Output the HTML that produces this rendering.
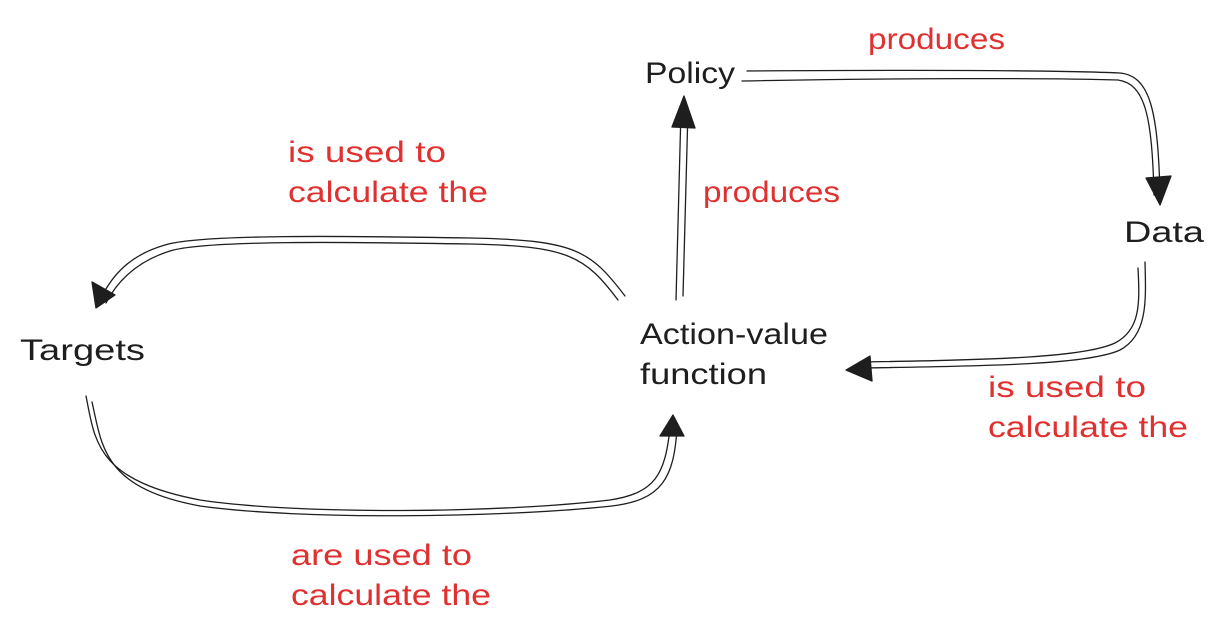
<!DOCTYPE html>
<html><head><style>
html,body{margin:0;padding:0;background:#fff;}
svg{display:block}
text{font-family:"Liberation Sans",sans-serif;}
.b{font-size:30px;fill:#1e1e1e;}
.r{font-size:30px;fill:#e03131;}
.l{fill:none;stroke:#1e1e1e;stroke-width:1.3;stroke-linecap:round}
.h{fill:#1e1e1e;stroke:#1e1e1e;stroke-width:1.3;stroke-linejoin:round}
</style></head><body>
<svg width="1223" height="637" viewBox="0 0 1223 637">
<text class="b" x="645" y="83" textLength="90" lengthAdjust="spacingAndGlyphs">Policy</text>
<text class="b" x="1124" y="242" textLength="80" lengthAdjust="spacingAndGlyphs">Data</text>
<text class="b" x="20" y="360" textLength="125" lengthAdjust="spacingAndGlyphs">Targets</text>
<text class="b" x="640" y="344" textLength="188" lengthAdjust="spacingAndGlyphs">Action-value</text>
<text class="b" x="640" y="384" textLength="127" lengthAdjust="spacingAndGlyphs">function</text>
<text class="r" x="868" y="49" textLength="137" lengthAdjust="spacingAndGlyphs">produces</text>
<text class="r" x="703" y="202" textLength="137" lengthAdjust="spacingAndGlyphs">produces</text>
<text class="r" x="288" y="162" textLength="158" lengthAdjust="spacingAndGlyphs">is used to</text>
<text class="r" x="288" y="202" textLength="200" lengthAdjust="spacingAndGlyphs">calculate the</text>
<text class="r" x="988" y="397" textLength="158" lengthAdjust="spacingAndGlyphs">is used to</text>
<text class="r" x="988" y="437" textLength="200" lengthAdjust="spacingAndGlyphs">calculate the</text>
<text class="r" x="291" y="565" textLength="181" lengthAdjust="spacingAndGlyphs">are used to</text>
<text class="r" x="291" y="605" textLength="200" lengthAdjust="spacingAndGlyphs">calculate the</text>

<path class="l" d="M747 71 C900 70 1050 70 1120 73 C1150 76 1158 110 1160 195"/>
<path class="l" d="M742 81 C900 78 1050 78 1118 80 C1145 84 1152 115 1154 195"/>
<path class="h" d="M1146 178 L1171 176 L1160 205 Z"/>
<path class="l" d="M676 300 C678 240 679 170 681 110"/>
<path class="l" d="M683 296 C685 240 686 170 688 110"/>
<path class="h" d="M672 127 L695 128 L684 96 Z"/>
<path class="l" d="M625 296 C590 250 575 240 470 238 C350 236 200 234 165 245 C130 255 112 275 100 300"/>
<path class="l" d="M618 300 C585 256 568 246 470 244 C350 242 205 240 170 251 C138 261 118 280 106 303"/>
<path class="h" d="M92 282 L115 295 L96 308 Z"/>
<path class="l" d="M86 396 C95 440 95 480 200 500 C300 515 500 513 610 500 C655 493 665 475 670 428"/>
<path class="l" d="M92 402 C102 445 102 488 200 506 C300 520 500 518 612 506 C662 500 674 478 677 428"/>
<path class="h" d="M660 436 L684 436 L673 415 Z"/>
<path class="l" d="M1145 262 C1146 300 1148 335 1120 350 C1090 364 1000 366 860 368"/>
<path class="l" d="M1138 268 C1140 305 1140 330 1115 343 C1085 357 1000 360 860 362"/>
<path class="h" d="M870 356 L846 370 L872 381 Z"/>
</svg>
</body></html>
